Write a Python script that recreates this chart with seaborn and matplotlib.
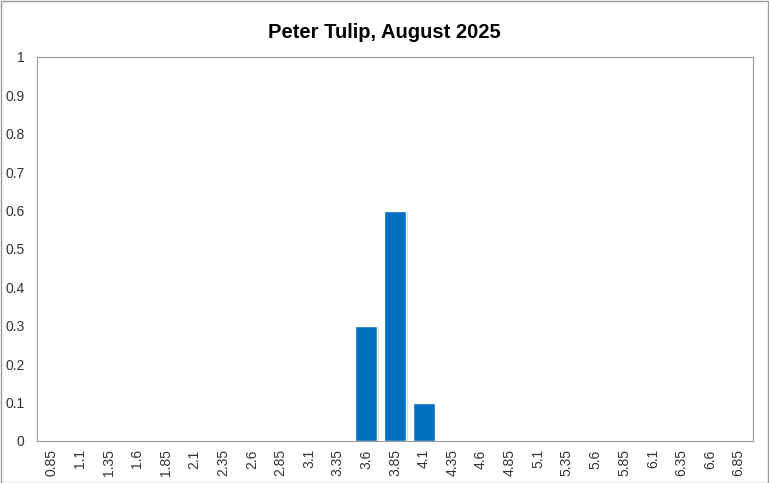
import matplotlib
matplotlib.use("Agg")
import matplotlib.pyplot as plt
import matplotlib.patches as mpatches
import matplotlib.patheffects as pe
import seaborn as sns
import pandas as pd
import numpy as np

categories = ["0.85", "1.1", "1.35", "1.6", "1.85", "2.1", "2.35", "2.6", "2.85", "3.1",
              "3.35", "3.6", "3.85", "4.1", "4.35", "4.6", "4.85", "5.1", "5.35", "5.6",
              "5.85", "6.1", "6.35", "6.6", "6.85"]
values = [0, 0, 0, 0, 0, 0, 0, 0, 0, 0,
          0, 0.3, 0.6, 0.1, 0, 0, 0, 0, 0, 0,
          0, 0, 0, 0, 0]
y_ticks = [0, 0.1, 0.2, 0.3, 0.4, 0.5, 0.6, 0.7, 0.8, 0.9, 1]
y_labels = ["0", "0.1", "0.2", "0.3", "0.4", "0.5", "0.6", "0.7", "0.8", "0.9", "1"]
title = "Peter Tulip, August 2025"

df = pd.DataFrame({"bin": categories, "share": values})

sns.set_style("white")
plt.rcParams["font.family"] = ["Liberation Sans", "DejaVu Sans"]

fig = plt.figure(figsize=(7.69, 4.83), dpi=100)
ax = fig.add_axes([37 / 769, 1 - 441 / 483, (753 - 37) / 769, (441 - 57) / 483])

sns.barplot(data=df, x="bin", y="share", order=categories, color="#0070C0",
            saturation=1, width=0.77, ax=ax)
for p in ax.patches:
    p.set_path_effects([pe.SimplePatchShadow(offset=(1.2, -0.8), alpha=0.2), pe.Normal()])

ax.set_xlim(-0.5, len(categories) - 0.5)
ax.set_ylim(0, 1)
ax.set_yticks(y_ticks)
ax.set_yticklabels(y_labels, fontsize=10, color="#333333")
ax.set_xticks(range(len(categories)))
ax.set_xticklabels(categories, rotation=90, fontsize=10, color="#333333")
ax.set_xticks(np.arange(len(categories) + 1) - 0.5, minor=True)
ax.tick_params(axis="x", which="major", length=0, pad=6)
ax.tick_params(axis="x", which="minor", length=4, width=0.8, color="#999999", direction="in")
ax.tick_params(axis="y", which="major", length=5, width=0.8, color="#999999", direction="out", pad=4)
ax.set_xlabel("")
ax.set_ylabel("")
for s in ax.spines.values():
    s.set_visible(True)
    s.set_color("#999999")
    s.set_linewidth(0.8)

fig.text(0.5, 1 - 32 / 483, title, ha="center", va="center", fontsize=14.5,
         fontweight="bold", color="black")

fig.patches.append(mpatches.Rectangle((0.001, 0.001), 0.998, 0.997, transform=fig.transFigure,
                                      fill=False, edgecolor="#999999", linewidth=1))

fig.savefig("out.png", dpi=100)
